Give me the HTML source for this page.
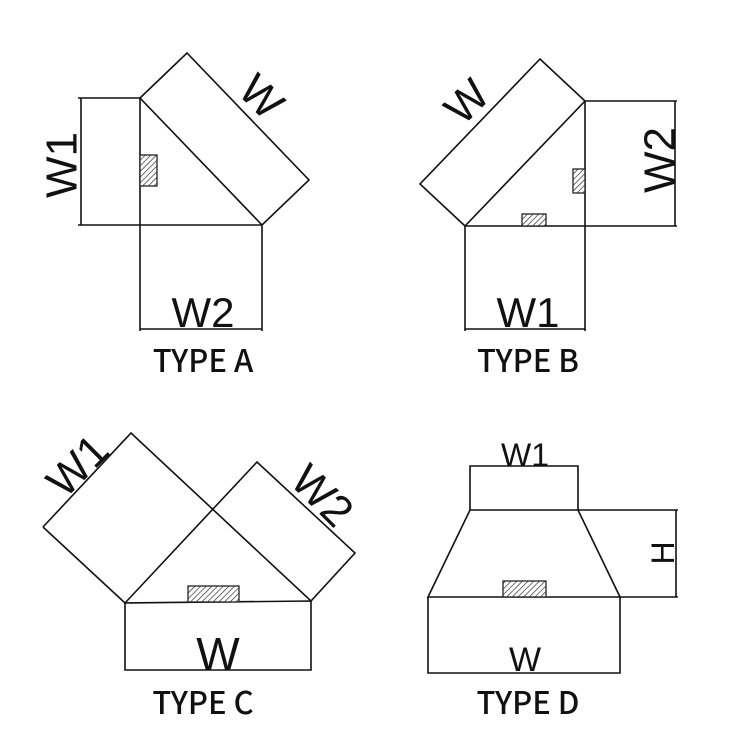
<!DOCTYPE html>
<html><head><style>body{margin:0;background:#fff}svg{display:block}</style></head>
<body>
<svg width="750" height="750" viewBox="0 0 750 750" xmlns="http://www.w3.org/2000/svg">
<defs>
<pattern id="h" width="4" height="4" patternUnits="userSpaceOnUse" patternTransform="rotate(45)">
<rect width="4" height="4" fill="#fff"/><line x1="0" y1="0" x2="0" y2="4" stroke="#222" stroke-width="1.3"/>
</pattern>
</defs>
<g fill="none" stroke="#111" stroke-width="1.6">
<polyline points="78,98 140,98"/>
<line x1="81" y1="98" x2="81" y2="225"/>
<line x1="78" y1="225" x2="262" y2="225"/>
<line x1="140" y1="98" x2="140" y2="331"/>
<polygon points="140,98 187,53 309,180 262,225"/>
<line x1="262" y1="225" x2="262" y2="331"/>
<line x1="140" y1="329" x2="262" y2="329"/>
<polygon points="465,226 420,184 540,59 585,101"/>
<line x1="585" y1="101" x2="585" y2="331"/>
<line x1="585" y1="101" x2="677" y2="101"/>
<line x1="675" y1="101" x2="675" y2="226"/>
<line x1="465" y1="226" x2="677" y2="226"/>
<line x1="465" y1="226" x2="465" y2="331"/>
<line x1="465" y1="329" x2="585" y2="329"/>
<polyline points="43,527 131,433 311,601 355,553 257,462 125,603 43,527"/>
<polygon points="125,603 311,601 311,670 125,670"/>
<polyline points="470,510 470,466 578,466 578,510"/>
<line x1="470" y1="510" x2="678" y2="510"/>
<line x1="676" y1="510" x2="676" y2="597"/>
<polyline points="470,510 428,597 620,597 578,510"/>
<line x1="620" y1="597" x2="678" y2="597"/>
<polyline points="428,597 428,673 620,673 620,597"/>
</g>
<g fill="url(#h)" stroke="#222" stroke-width="1.3">
<rect x="140" y="155" width="17" height="31"/>
<rect x="573" y="169" width="12" height="24"/>
<rect x="522" y="214" width="24" height="12"/>
<rect x="188" y="586" width="51" height="16"/>
<rect x="503" y="581" width="43" height="16"/>
</g>
<g font-family="Liberation Sans, sans-serif" fill="#111" text-anchor="middle">
<text x="0" y="0" font-size="44" transform="translate(261,97) rotate(45)" dominant-baseline="central">W</text>
<text x="0" y="0" font-size="44" transform="translate(62,165) rotate(-90)" dominant-baseline="central">W1</text>
<text x="203" y="327" font-size="42">W2</text>
<text x="0" y="0" font-size="44" transform="translate(467,102) rotate(-45)" dominant-baseline="central">W</text>
<text x="0" y="0" font-size="44" transform="translate(660,160) rotate(-90)" dominant-baseline="central">W2</text>
<text x="528" y="327" font-size="42">W1</text>
<text x="0" y="0" font-size="44" transform="translate(78,466) rotate(-45)" dominant-baseline="central">W1</text>
<text x="0" y="0" font-size="44" transform="translate(322,496) rotate(45)" dominant-baseline="central">W2</text>
<text x="218" y="670" font-size="46">W</text>
<text x="525" y="466" font-size="32">W1</text>
<text x="0" y="0" font-size="32" transform="translate(663,553) rotate(-90)" dominant-baseline="central">H</text>
<text x="525" y="671" font-size="34">W</text>
<g font-size="31" font-weight="500" font-family="Noto Sans CJK SC, Liberation Sans, sans-serif">
<text x="203" y="372">TYPE A</text>
<text x="528" y="372">TYPE B</text>
<text x="203" y="714">TYPE C</text>
<text x="528" y="714">TYPE D</text>
</g>
</g>
</svg>
</body></html>
